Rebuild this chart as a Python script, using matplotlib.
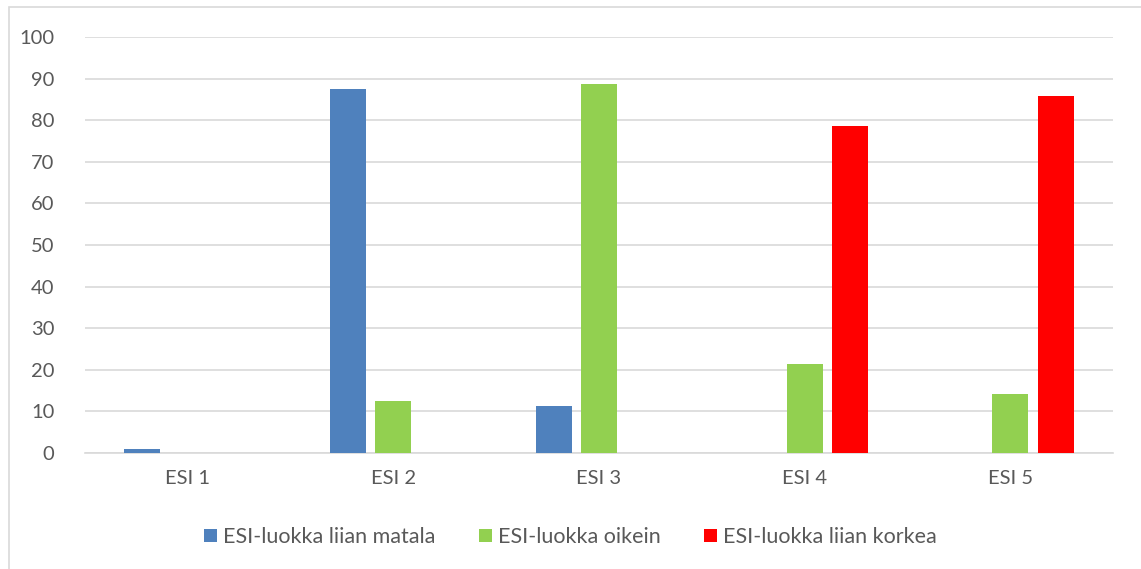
import matplotlib.pyplot as plt
from matplotlib.patches import Rectangle
import numpy as np

categories = ["ESI 1", "ESI 2", "ESI 3", "ESI 4", "ESI 5"]
series_names = ["ESI-luokka liian matala", "ESI-luokka oikein", "ESI-luokka liian korkea"]
too_low = [1.0, 87.5, 11.3, 0, 0]
correct = [0, 12.5, 88.7, 21.4, 14.3]
too_high = [0, 0, 0, 78.6, 85.7]
colors = ["#4f81bd", "#92d050", "#ff0000"]
y_ticks = [0, 10, 20, 30, 40, 50, 60, 70, 80, 90, 100]

plt.rcParams["font.family"] = ["Lato", "DejaVu Sans"]

W, H = 1141, 569
fig = plt.figure(figsize=(W / 100, H / 100), dpi=100)
ax = fig.add_axes([85 / W, 1 - 453 / H, (1113 - 85) / W, (453 - 37) / H])

x = np.arange(len(categories))
width = 0.175
step = 0.221
for i, (vals, name, col) in enumerate(zip([too_low, correct, too_high], series_names, colors)):
    ax.bar(x + (i - 1) * step, vals, width=width, color=col, label=name, zorder=3)

ax.set_xlim(-0.5, len(categories) - 0.5)
ax.set_ylim(0, 100)
ax.set_yticks(y_ticks)
ax.set_xticks(x)
ax.set_xticklabels(categories)
ax.grid(axis="y", color="#d9d9d9", linewidth=1.2, zorder=0)
for s in ["top", "right", "left"]:
    ax.spines[s].set_visible(False)
ax.spines["bottom"].set_color("#d9d9d9")
ax.spines["bottom"].set_linewidth(1.2)
ax.tick_params(axis="both", length=0, labelsize=14.5, labelcolor="#595959")
ax.tick_params(axis="y", pad=22)
ax.tick_params(axis="x", pad=12)

leg = fig.legend(loc="center", bbox_to_anchor=(0.5, 1 - 537 / H), ncol=3, frameon=False,
                 fontsize=15.5, handlelength=0.6, handleheight=0.6, handletextpad=0.3,
                 columnspacing=2.0)
for t in leg.get_texts():
    t.set_color("#595959")

# outer chart border
fig.patches.append(Rectangle((9 / W, -0.01), 1.02, 1 - 7 / H + 0.01, transform=fig.transFigure,
                             fill=False, edgecolor="#d9d9d9", linewidth=1.2))

fig.savefig("out.png", dpi=100)
